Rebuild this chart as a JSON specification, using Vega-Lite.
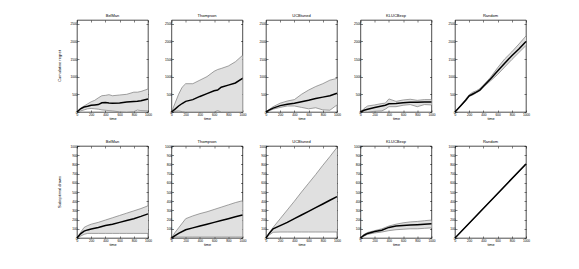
{
  "$schema": "https://vega.github.io/schema/vega-lite/v6.json",
  "padding": {"left": 58, "top": 14, "right": 5, "bottom": 5},
  "background": "white",
  "config": {
    "font": "Liberation Sans",
    "view": {"stroke": "black", "strokeWidth": 0.7},
    "axis": {"grid": false, "domain": false, "tickSize": -2, "tickColor": "black", "tickWidth": 0.5, "labelFontSize": 3.2, "labelColor": "black", "labelPadding": 2, "labelFlush": false, "format": "d", "titleFontSize": 3.8, "titleFontWeight": "normal", "titleColor": "black", "titlePadding": 1},
    "header": {"labelFontSize": 4, "labelColor": "black", "labelPadding": 2, "labelFont": "Liberation Sans"}
  },
  "datasets": {
    "regret": [
      {"m":"Cumulative regret","a":"BelMan","t":0,"mean":0,"lo":0,"hi":0},
      {"m":"Cumulative regret","a":"BelMan","t":50,"mean":90,"lo":30,"hi":110},
      {"m":"Cumulative regret","a":"BelMan","t":100,"mean":140,"lo":60,"hi":170},
      {"m":"Cumulative regret","a":"BelMan","t":150,"mean":160,"lo":90,"hi":230},
      {"m":"Cumulative regret","a":"BelMan","t":200,"mean":190,"lo":100,"hi":290},
      {"m":"Cumulative regret","a":"BelMan","t":250,"mean":200,"lo":90,"hi":330},
      {"m":"Cumulative regret","a":"BelMan","t":300,"mean":210,"lo":80,"hi":400},
      {"m":"Cumulative regret","a":"BelMan","t":350,"mean":260,"lo":60,"hi":460},
      {"m":"Cumulative regret","a":"BelMan","t":400,"mean":265,"lo":50,"hi":470},
      {"m":"Cumulative regret","a":"BelMan","t":450,"mean":255,"lo":40,"hi":490},
      {"m":"Cumulative regret","a":"BelMan","t":500,"mean":250,"lo":30,"hi":460},
      {"m":"Cumulative regret","a":"BelMan","t":600,"mean":255,"lo":5,"hi":480},
      {"m":"Cumulative regret","a":"BelMan","t":700,"mean":280,"lo":0,"hi":500},
      {"m":"Cumulative regret","a":"BelMan","t":800,"mean":300,"lo":10,"hi":560},
      {"m":"Cumulative regret","a":"BelMan","t":850,"mean":305,"lo":55,"hi":560},
      {"m":"Cumulative regret","a":"BelMan","t":900,"mean":320,"lo":40,"hi":580},
      {"m":"Cumulative regret","a":"BelMan","t":1000,"mean":365,"lo":30,"hi":650},
      {"m":"Cumulative regret","a":"Thompson","t":0,"mean":0,"lo":0,"hi":0},
      {"m":"Cumulative regret","a":"Thompson","t":50,"mean":80,"lo":20,"hi":250},
      {"m":"Cumulative regret","a":"Thompson","t":100,"mean":170,"lo":30,"hi":500},
      {"m":"Cumulative regret","a":"Thompson","t":150,"mean":240,"lo":10,"hi":700},
      {"m":"Cumulative regret","a":"Thompson","t":200,"mean":300,"lo":0,"hi":800},
      {"m":"Cumulative regret","a":"Thompson","t":300,"mean":350,"lo":0,"hi":800},
      {"m":"Cumulative regret","a":"Thompson","t":400,"mean":440,"lo":0,"hi":900},
      {"m":"Cumulative regret","a":"Thompson","t":500,"mean":520,"lo":0,"hi":1000},
      {"m":"Cumulative regret","a":"Thompson","t":600,"mean":600,"lo":0,"hi":1150},
      {"m":"Cumulative regret","a":"Thompson","t":650,"mean":620,"lo":40,"hi":1200},
      {"m":"Cumulative regret","a":"Thompson","t":700,"mean":700,"lo":0,"hi":1230},
      {"m":"Cumulative regret","a":"Thompson","t":800,"mean":760,"lo":0,"hi":1300},
      {"m":"Cumulative regret","a":"Thompson","t":900,"mean":820,"lo":0,"hi":1420},
      {"m":"Cumulative regret","a":"Thompson","t":1000,"mean":950,"lo":0,"hi":1600},
      {"m":"Cumulative regret","a":"UCBtuned","t":0,"mean":0,"lo":0,"hi":0},
      {"m":"Cumulative regret","a":"UCBtuned","t":50,"mean":60,"lo":40,"hi":80},
      {"m":"Cumulative regret","a":"UCBtuned","t":100,"mean":110,"lo":80,"hi":150},
      {"m":"Cumulative regret","a":"UCBtuned","t":200,"mean":180,"lo":130,"hi":250},
      {"m":"Cumulative regret","a":"UCBtuned","t":300,"mean":220,"lo":170,"hi":310},
      {"m":"Cumulative regret","a":"UCBtuned","t":400,"mean":250,"lo":170,"hi":350},
      {"m":"Cumulative regret","a":"UCBtuned","t":500,"mean":290,"lo":130,"hi":500},
      {"m":"Cumulative regret","a":"UCBtuned","t":600,"mean":330,"lo":90,"hi":620},
      {"m":"Cumulative regret","a":"UCBtuned","t":700,"mean":380,"lo":120,"hi":720},
      {"m":"Cumulative regret","a":"UCBtuned","t":800,"mean":420,"lo":60,"hi":800},
      {"m":"Cumulative regret","a":"UCBtuned","t":900,"mean":460,"lo":50,"hi":900},
      {"m":"Cumulative regret","a":"UCBtuned","t":1000,"mean":530,"lo":200,"hi":950},
      {"m":"Cumulative regret","a":"KLUCBexp","t":0,"mean":0,"lo":0,"hi":0},
      {"m":"Cumulative regret","a":"KLUCBexp","t":50,"mean":50,"lo":0,"hi":100},
      {"m":"Cumulative regret","a":"KLUCBexp","t":100,"mean":80,"lo":0,"hi":170},
      {"m":"Cumulative regret","a":"KLUCBexp","t":200,"mean":130,"lo":20,"hi":200},
      {"m":"Cumulative regret","a":"KLUCBexp","t":300,"mean":170,"lo":30,"hi":240},
      {"m":"Cumulative regret","a":"KLUCBexp","t":350,"mean":190,"lo":80,"hi":250},
      {"m":"Cumulative regret","a":"KLUCBexp","t":400,"mean":230,"lo":150,"hi":370},
      {"m":"Cumulative regret","a":"KLUCBexp","t":500,"mean":240,"lo":150,"hi":300},
      {"m":"Cumulative regret","a":"KLUCBexp","t":600,"mean":260,"lo":190,"hi":340},
      {"m":"Cumulative regret","a":"KLUCBexp","t":700,"mean":275,"lo":210,"hi":360},
      {"m":"Cumulative regret","a":"KLUCBexp","t":800,"mean":275,"lo":150,"hi":330},
      {"m":"Cumulative regret","a":"KLUCBexp","t":900,"mean":280,"lo":210,"hi":350},
      {"m":"Cumulative regret","a":"KLUCBexp","t":1000,"mean":280,"lo":200,"hi":350},
      {"m":"Cumulative regret","a":"Random","t":0,"mean":0,"lo":0,"hi":0},
      {"m":"Cumulative regret","a":"Random","t":100,"mean":220,"lo":200,"hi":240},
      {"m":"Cumulative regret","a":"Random","t":150,"mean":330,"lo":310,"hi":360},
      {"m":"Cumulative regret","a":"Random","t":200,"mean":460,"lo":440,"hi":490},
      {"m":"Cumulative regret","a":"Random","t":250,"mean":510,"lo":480,"hi":560},
      {"m":"Cumulative regret","a":"Random","t":300,"mean":560,"lo":540,"hi":600},
      {"m":"Cumulative regret","a":"Random","t":350,"mean":620,"lo":600,"hi":660},
      {"m":"Cumulative regret","a":"Random","t":400,"mean":730,"lo":700,"hi":760},
      {"m":"Cumulative regret","a":"Random","t":500,"mean":930,"lo":880,"hi":980},
      {"m":"Cumulative regret","a":"Random","t":600,"mean":1160,"lo":1060,"hi":1250},
      {"m":"Cumulative regret","a":"Random","t":700,"mean":1380,"lo":1270,"hi":1500},
      {"m":"Cumulative regret","a":"Random","t":800,"mean":1590,"lo":1480,"hi":1700},
      {"m":"Cumulative regret","a":"Random","t":900,"mean":1780,"lo":1680,"hi":1920},
      {"m":"Cumulative regret","a":"Random","t":1000,"mean":1990,"lo":1880,"hi":2150}
    ],
    "draws": [
      {"m":"Suboptimal draws","a":"BelMan","t":0,"mean":0,"lo":0,"hi":0},
      {"m":"Suboptimal draws","a":"BelMan","t":50,"mean":45,"lo":20,"hi":60},
      {"m":"Suboptimal draws","a":"BelMan","t":100,"mean":75,"lo":40,"hi":115},
      {"m":"Suboptimal draws","a":"BelMan","t":150,"mean":88,"lo":50,"hi":135},
      {"m":"Suboptimal draws","a":"BelMan","t":200,"mean":98,"lo":50,"hi":150},
      {"m":"Suboptimal draws","a":"BelMan","t":300,"mean":115,"lo":50,"hi":170},
      {"m":"Suboptimal draws","a":"BelMan","t":400,"mean":135,"lo":50,"hi":195},
      {"m":"Suboptimal draws","a":"BelMan","t":500,"mean":150,"lo":50,"hi":220},
      {"m":"Suboptimal draws","a":"BelMan","t":600,"mean":170,"lo":50,"hi":245},
      {"m":"Suboptimal draws","a":"BelMan","t":700,"mean":190,"lo":50,"hi":270},
      {"m":"Suboptimal draws","a":"BelMan","t":800,"mean":210,"lo":50,"hi":295},
      {"m":"Suboptimal draws","a":"BelMan","t":900,"mean":235,"lo":50,"hi":320},
      {"m":"Suboptimal draws","a":"BelMan","t":1000,"mean":262,"lo":50,"hi":350},
      {"m":"Suboptimal draws","a":"Thompson","t":0,"mean":0,"lo":0,"hi":0},
      {"m":"Suboptimal draws","a":"Thompson","t":50,"mean":25,"lo":10,"hi":60},
      {"m":"Suboptimal draws","a":"Thompson","t":100,"mean":50,"lo":10,"hi":110},
      {"m":"Suboptimal draws","a":"Thompson","t":200,"mean":90,"lo":10,"hi":210},
      {"m":"Suboptimal draws","a":"Thompson","t":300,"mean":110,"lo":10,"hi":240},
      {"m":"Suboptimal draws","a":"Thompson","t":400,"mean":130,"lo":10,"hi":265},
      {"m":"Suboptimal draws","a":"Thompson","t":500,"mean":150,"lo":10,"hi":285},
      {"m":"Suboptimal draws","a":"Thompson","t":600,"mean":170,"lo":10,"hi":310},
      {"m":"Suboptimal draws","a":"Thompson","t":700,"mean":190,"lo":10,"hi":335},
      {"m":"Suboptimal draws","a":"Thompson","t":800,"mean":210,"lo":10,"hi":360},
      {"m":"Suboptimal draws","a":"Thompson","t":900,"mean":230,"lo":10,"hi":385},
      {"m":"Suboptimal draws","a":"Thompson","t":1000,"mean":250,"lo":10,"hi":405},
      {"m":"Suboptimal draws","a":"UCBtuned","t":0,"mean":0,"lo":0,"hi":0},
      {"m":"Suboptimal draws","a":"UCBtuned","t":50,"mean":55,"lo":35,"hi":60},
      {"m":"Suboptimal draws","a":"UCBtuned","t":100,"mean":100,"lo":62,"hi":115},
      {"m":"Suboptimal draws","a":"UCBtuned","t":200,"mean":135,"lo":65,"hi":210},
      {"m":"Suboptimal draws","a":"UCBtuned","t":300,"mean":170,"lo":65,"hi":305},
      {"m":"Suboptimal draws","a":"UCBtuned","t":400,"mean":210,"lo":65,"hi":400},
      {"m":"Suboptimal draws","a":"UCBtuned","t":500,"mean":250,"lo":65,"hi":500},
      {"m":"Suboptimal draws","a":"UCBtuned","t":600,"mean":290,"lo":65,"hi":595},
      {"m":"Suboptimal draws","a":"UCBtuned","t":700,"mean":330,"lo":65,"hi":690},
      {"m":"Suboptimal draws","a":"UCBtuned","t":800,"mean":370,"lo":65,"hi":790},
      {"m":"Suboptimal draws","a":"UCBtuned","t":900,"mean":410,"lo":65,"hi":885},
      {"m":"Suboptimal draws","a":"UCBtuned","t":1000,"mean":450,"lo":65,"hi":985},
      {"m":"Suboptimal draws","a":"KLUCBexp","t":0,"mean":0,"lo":0,"hi":0},
      {"m":"Suboptimal draws","a":"KLUCBexp","t":50,"mean":30,"lo":20,"hi":40},
      {"m":"Suboptimal draws","a":"KLUCBexp","t":100,"mean":50,"lo":40,"hi":60},
      {"m":"Suboptimal draws","a":"KLUCBexp","t":200,"mean":70,"lo":55,"hi":80},
      {"m":"Suboptimal draws","a":"KLUCBexp","t":300,"mean":85,"lo":65,"hi":100},
      {"m":"Suboptimal draws","a":"KLUCBexp","t":400,"mean":115,"lo":80,"hi":130},
      {"m":"Suboptimal draws","a":"KLUCBexp","t":500,"mean":130,"lo":90,"hi":150},
      {"m":"Suboptimal draws","a":"KLUCBexp","t":600,"mean":135,"lo":95,"hi":165},
      {"m":"Suboptimal draws","a":"KLUCBexp","t":700,"mean":140,"lo":100,"hi":175},
      {"m":"Suboptimal draws","a":"KLUCBexp","t":800,"mean":145,"lo":100,"hi":180},
      {"m":"Suboptimal draws","a":"KLUCBexp","t":900,"mean":150,"lo":105,"hi":188},
      {"m":"Suboptimal draws","a":"KLUCBexp","t":1000,"mean":155,"lo":110,"hi":195},
      {"m":"Suboptimal draws","a":"Random","t":0,"mean":0,"lo":0,"hi":0},
      {"m":"Suboptimal draws","a":"Random","t":250,"mean":201,"lo":198,"hi":204},
      {"m":"Suboptimal draws","a":"Random","t":500,"mean":402,"lo":398,"hi":406},
      {"m":"Suboptimal draws","a":"Random","t":750,"mean":604,"lo":599,"hi":608},
      {"m":"Suboptimal draws","a":"Random","t":1000,"mean":805,"lo":800,"hi":810}
    ]
  },
  "spacing": 19,
  "vconcat": [
    {
      "data": {"name": "regret"},
      "bounds": "flush",
      "spacing": {"column": 23.5, "row": 10},
      "facet": {
        "row": {"field": "m", "type": "nominal", "header": {"title": null, "labelAngle": -90, "labelOrient": "left", "labelPadding": 13}},
        "column": {"field": "a", "type": "nominal", "sort": ["BelMan","Thompson","UCBtuned","KLUCBexp","Random"], "header": {"title": null}}
      },
      "resolve": {"axis": {"x": "independent", "y": "independent"}},
      "spec": {
        "width": 71,
        "height": 92,
        "resolve": {"axis": {"x": "independent", "y": "independent"}},
        "layer": [
          {"mark": {"type": "area", "color": "#e0e0e0"},
           "encoding": {
             "x": {"field": "t", "type": "quantitative", "scale": {"domain": [0, 1000]}, "axis": {"values": [0,200,400,600,800,1000], "title": "time"}},
             "y": {"field": "lo", "type": "quantitative", "scale": {"domain": [0, 2500]}, "axis": {"values": [0,500,1000,1500,2000,2500], "title": null}},
             "y2": {"field": "hi"}}},
          {"mark": {"type": "line", "color": "#7a7a7a", "strokeWidth": 0.7},
           "encoding": {"x": {"field": "t", "type": "quantitative", "axis": null}, "y": {"field": "lo", "type": "quantitative", "axis": null}}},
          {"mark": {"type": "line", "color": "#7a7a7a", "strokeWidth": 0.7},
           "encoding": {"x": {"field": "t", "type": "quantitative", "axis": null}, "y": {"field": "hi", "type": "quantitative", "axis": null}}},
          {"mark": {"type": "line", "color": "black", "strokeWidth": 1.5},
           "encoding": {
             "x": {"field": "t", "type": "quantitative", "axis": {"orient": "top", "labels": false, "title": null, "values": [0,200,400,600,800,1000]}},
             "y": {"field": "mean", "type": "quantitative", "axis": {"orient": "right", "labels": false, "title": null, "values": [0,500,1000,1500,2000,2500]}}}}
        ]
      }
    },
    {
      "data": {"name": "draws"},
      "bounds": "flush",
      "spacing": {"column": 23.5, "row": 10},
      "facet": {
        "row": {"field": "m", "type": "nominal", "header": {"title": null, "labelAngle": -90, "labelOrient": "left", "labelPadding": 13}},
        "column": {"field": "a", "type": "nominal", "sort": ["BelMan","Thompson","UCBtuned","KLUCBexp","Random"], "header": {"title": null}}
      },
      "resolve": {"axis": {"x": "independent", "y": "independent"}},
      "spec": {
        "width": 71,
        "height": 92,
        "resolve": {"axis": {"x": "independent", "y": "independent"}},
        "layer": [
          {"mark": {"type": "area", "color": "#e0e0e0"},
           "encoding": {
             "x": {"field": "t", "type": "quantitative", "scale": {"domain": [0, 1000]}, "axis": {"values": [0,200,400,600,800,1000], "title": "time"}},
             "y": {"field": "lo", "type": "quantitative", "scale": {"domain": [0, 1000]}, "axis": {"values": [0,100,200,300,400,500,600,700,800,900,1000], "title": null}},
             "y2": {"field": "hi"}}},
          {"mark": {"type": "line", "color": "#7a7a7a", "strokeWidth": 0.7},
           "encoding": {"x": {"field": "t", "type": "quantitative", "axis": null}, "y": {"field": "lo", "type": "quantitative", "axis": null}}},
          {"mark": {"type": "line", "color": "#7a7a7a", "strokeWidth": 0.7},
           "encoding": {"x": {"field": "t", "type": "quantitative", "axis": null}, "y": {"field": "hi", "type": "quantitative", "axis": null}}},
          {"mark": {"type": "line", "color": "black", "strokeWidth": 1.5},
           "encoding": {
             "x": {"field": "t", "type": "quantitative", "axis": {"orient": "top", "labels": false, "title": null, "values": [0,200,400,600,800,1000]}},
             "y": {"field": "mean", "type": "quantitative", "axis": {"orient": "right", "labels": false, "title": null, "values": [0,100,200,300,400,500,600,700,800,900,1000]}}}}
        ]
      }
    }
  ]
}
